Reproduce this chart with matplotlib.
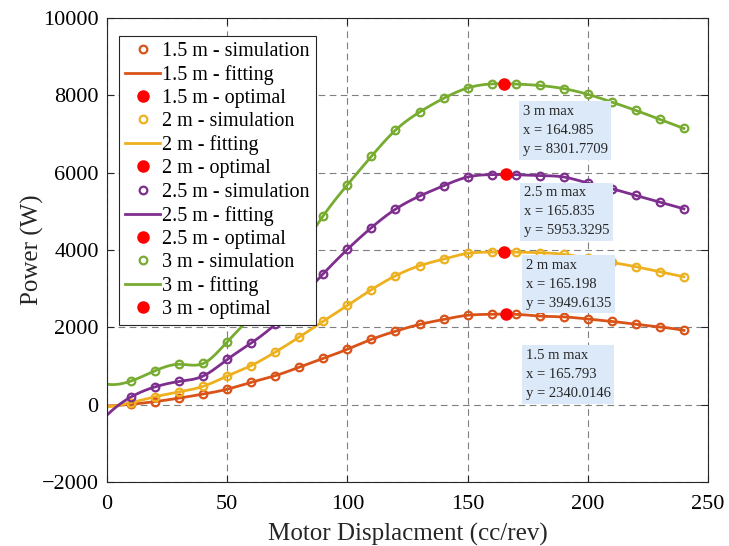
import numpy as np
import matplotlib.pyplot as plt

plt.rcParams['font.family'] = ['Liberation Serif', 'DejaVu Serif']

# motor displacement sweep (cc/rev)
disp = np.arange(10, 250, 10)

# simulated power (W) for each height
power_15 = [10, 80, 170, 275, 400, 580, 750, 970, 1195, 1435, 1690, 1900,
            2075, 2205, 2312, 2338, 2338, 2290, 2270, 2216, 2155, 2078, 2010, 1922]
power_20 = [55, 205, 330, 475, 740, 1013, 1360, 1749, 2160, 2565, 2975, 3333,
            3593, 3766, 3913, 3945, 3945, 3930, 3888, 3784, 3680, 3567, 3437, 3307]
power_25 = [200, 460, 600, 742, 1170, 1595, 2080, 2720, 3390, 4017, 4580, 5056,
            5394, 5662, 5888, 5950, 5948, 5925, 5888, 5732, 5584, 5411, 5238, 5065]
power_30 = [612, 877, 1045, 1065, 1627, 2300, 3130, 3970, 4890, 5688, 6424, 7100,
            7567, 7922, 8190, 8295, 8292, 8255, 8173, 8026, 7826, 7610, 7377, 7143]

# value of each fitted curve at zero displacement
fit_start = [-35, -60, -270, 530]

heights = ['1.5', '2', '2.5', '3']
sims = [power_15, power_20, power_25, power_30]
opt_x = [165.793, 165.198, 165.835, 164.985]
opt_y = [2340.0146, 3949.6135, 5953.3295, 8301.7709]
colors = ['#D95319', '#EDB120', '#7E2F8E', '#77AC30']

# text box anchors (top-left corner, data units)
box_xy = [(174.1, 1440), (174.1, 3780), (173.3, 5650), (172.9, 7750)]


def spline_fit(x, y, xq):
    # not-a-knot cubic spline on an even grid
    x = np.asarray(x, float)
    y = np.asarray(y, float)
    n = len(x)
    h = x[1] - x[0]
    A = np.zeros((n, n))
    b = np.zeros(n)
    A[0, :3] = [1, -2, 1]
    A[-1, -3:] = [1, -2, 1]
    for i in range(1, n - 1):
        A[i, i - 1:i + 2] = [1, 4, 1]
        b[i] = 6 * (y[i + 1] - 2 * y[i] + y[i - 1]) / h ** 2
    M = np.linalg.solve(A, b)
    i = np.clip(((xq - x[0]) // h).astype(int), 0, n - 2)
    a = x[i + 1] - xq
    c = xq - x[i]
    return (M[i] * a ** 3 + M[i + 1] * c ** 3) / (6 * h) \
        + (y[i] / h - M[i] * h / 6) * a + (y[i + 1] / h - M[i + 1] * h / 6) * c


fig, ax = plt.subplots(figsize=(7.29, 5.46), dpi=100)
fig.subplots_adjust(left=0.1468, right=0.9712, top=0.967, bottom=0.1172)

xf = np.linspace(0, 240, 600)
for h, p, y0, ox, oy, c in zip(heights, sims, fit_start, opt_x, opt_y, colors):
    ax.plot(disp, p, 'o', mfc='none', mec=c, mew=1.6, ms=5.5,
            label=f'{h} m - simulation', zorder=3)
    yf = spline_fit(np.r_[0, disp], np.r_[y0, p], xf)
    ax.plot(xf, yf, '-', color=c, lw=2, label=f'{h} m - fitting', zorder=2)
    ax.plot(ox, oy, 'o', color='#FF0000', ms=8, label=f'{h} m - optimal', zorder=4)

for h, ox, oy, (bx, by) in zip(heights, opt_x, opt_y, box_xy):
    ax.text(bx, by, f'{h} m max\nx = {ox:.3f}\ny = {oy:.4f}', fontsize=10.5,
            va='top', ha='left', color='#262626', linespacing=1.6,
            bbox=dict(boxstyle='square,pad=0.25', fc='#dce9f8', ec='none'))

ax.set_xlim(0, 250)
ax.set_ylim(-2000, 10000)
ax.set_xticks(np.arange(0, 251, 50))
ax.set_yticks(np.arange(-2000, 10001, 2000))
ax.grid(True, ls=(0, (6, 4)), color='#7f7f7f', lw=0.8)
ax.tick_params(direction='in', top=True, right=True, labelsize=16, length=5,
               pad=6, color='#262626')
ax.tick_params(axis='x', pad=9)
for s in ax.spines.values():
    s.set_color('#262626')
ax.set_xlabel('Motor Displacment (cc/rev)', fontsize=18, color='#262626', labelpad=7)
ax.set_ylabel('Power (W)', fontsize=18, color='#262626', labelpad=-2)

leg = ax.legend(loc='upper left', bbox_to_anchor=(0.02, 0.961), fontsize=14.5,
                fancybox=False, framealpha=1, edgecolor='#262626',
                handlelength=1.75, handletextpad=0.1, labelspacing=0.2,
                borderpad=0.3, borderaxespad=0.0)
leg.get_frame().set_linewidth(0.8)

fig.savefig('out.png', dpi=100)
